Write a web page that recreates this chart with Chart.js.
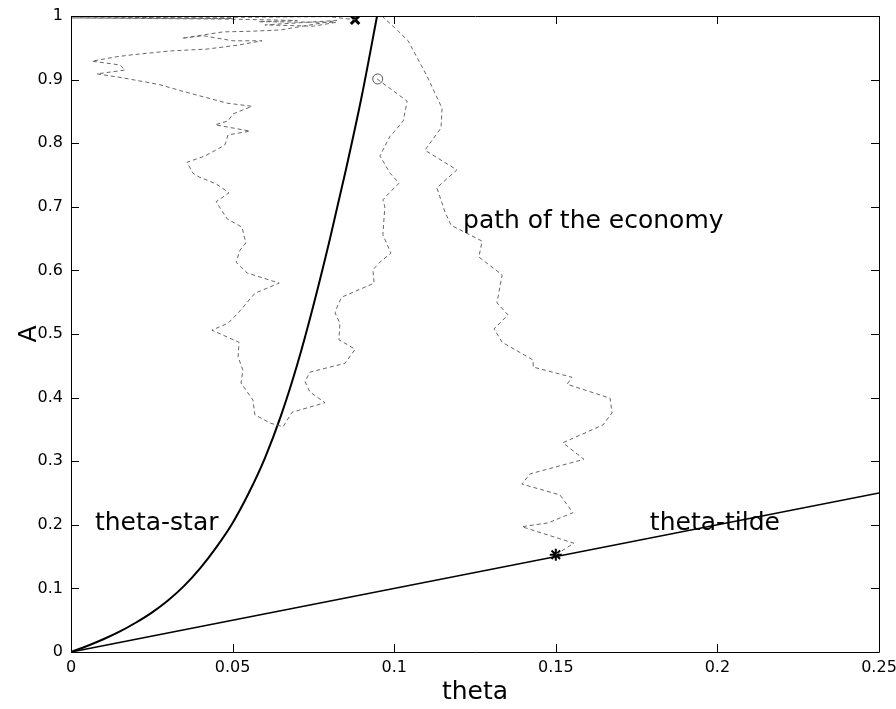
<!DOCTYPE html>
<html>
<head>
<meta charset="utf-8">
<title>theta vs A</title>
<script src="https://cdn.jsdelivr.net/npm/chart.js@4.4.1/dist/chart.umd.min.js"></script>
<style>
  html, body { margin: 0; padding: 0; background: #ffffff; }
  #wrap { width: 896px; height: 709px; }
</style>
</head>
<body>
<div id="wrap"><canvas id="chart" width="896" height="709"></canvas></div>
<script>
// Axis tick labels
const xTickLabels = ['0', '0.05', '0.1', '0.15', '0.2', '0.25'];
const yTickLabels = ['0', '0.1', '0.2', '0.3', '0.4', '0.5', '0.6', '0.7', '0.8', '0.9', '1'];

// theta-star boundary
const thetaStarTheta = [0, 0.0050, 0.0100, 0.0150, 0.0200, 0.0250, 0.0300, 0.0350, 0.0400, 0.0450, 0.0500, 0.0550, 0.0600, 0.0650, 0.0700, 0.0750, 0.0800, 0.0850, 0.0900, 0.0947];
const thetaStarA     = [0, 0.0095, 0.020, 0.032, 0.046, 0.062, 0.081, 0.104, 0.132, 0.165, 0.203, 0.250, 0.305, 0.372, 0.452, 0.545, 0.647, 0.757, 0.875, 1.000];

// theta-tilde line
const thetaTildeTheta = [0, 0.25];
const thetaTildeA     = [0, 0.25];

// path of the economy, starting on theta-tilde
const pathRightTheta = [0.1500, 0.1556, 0.1395, 0.1476, 0.1553, 0.1513, 0.1395, 0.1420, 0.1587, 0.1522, 0.1646, 0.1674, 0.1668, 0.1535, 0.1550, 0.1430, 0.1430, 0.1334, 0.1309, 0.1352, 0.1318, 0.1334, 0.1262, 0.1272, 0.1176, 0.1157, 0.1132, 0.1194, 0.1095, 0.1145, 0.1148, 0.1101, 0.1043, 0.1009, 0.0962];
const pathRightA     = [0.153, 0.171, 0.197, 0.203, 0.219, 0.247, 0.264, 0.280, 0.303, 0.329, 0.357, 0.376, 0.399, 0.421, 0.432, 0.448, 0.459, 0.487, 0.508, 0.530, 0.549, 0.593, 0.621, 0.646, 0.671, 0.692, 0.730, 0.758, 0.789, 0.824, 0.855, 0.906, 0.961, 0.978, 1.000];

// path of the economy, starting at the circle and ending at the cross
const pathLeftTheta = [0.0947, 0.1006, 0.1040, 0.1028, 0.1002, 0.0987, 0.0956, 0.0987, 0.1015, 0.0987, 0.0965, 0.0971, 0.0965, 0.0990, 0.0956, 0.0934, 0.0938, 0.0838, 0.0826, 0.0817, 0.0832, 0.0829, 0.0879, 0.0848, 0.0739, 0.0724, 0.0739, 0.0786, 0.0684, 0.0656,
  0.0616, 0.0569, 0.0563, 0.0526, 0.0532, 0.0517, 0.0520, 0.0436, 0.0486, 0.0517, 0.0569, 0.0644, 0.0545, 0.0511, 0.0523, 0.0541, 0.0529, 0.0483, 0.0449, 0.0489, 0.0449, 0.0396, 0.0377, 0.0359,
  0.0415, 0.0476, 0.0486, 0.0554, 0.0446, 0.0486, 0.0501, 0.0560, 0.0483, 0.0409, 0.0343, 0.0275, 0.0158, 0.0080, 0.0167, 0.0152, 0.0065, 0.0142, 0.0189, 0.0306, 0.0421, 0.0514, 0.0591, 0.0501,
  0.0409, 0.0343, 0.0470, 0.0554, 0.0647, 0.0823, 0.0600, 0.0750, 0.0820, 0.0580, 0.0700, 0.0500, 0.0000, 0.0500, 0.0000, 0.0520, 0.0800, 0.0880];
const pathLeftA = [0.901, 0.879, 0.866, 0.835, 0.819, 0.811, 0.780, 0.753, 0.737, 0.723, 0.711, 0.700, 0.656, 0.627, 0.613, 0.601, 0.580, 0.558, 0.546, 0.533, 0.517, 0.491, 0.476, 0.454, 0.440, 0.425, 0.409, 0.392, 0.377, 0.354,
  0.360, 0.373, 0.396, 0.423, 0.443, 0.464, 0.487, 0.506, 0.517, 0.533, 0.564, 0.580, 0.596, 0.613, 0.632, 0.643, 0.668, 0.681, 0.708, 0.722, 0.736, 0.747, 0.753, 0.770,
  0.780, 0.797, 0.813, 0.819, 0.829, 0.835, 0.846, 0.858, 0.863, 0.873, 0.882, 0.892, 0.903, 0.909, 0.915, 0.923, 0.929, 0.936, 0.939, 0.945, 0.948, 0.954, 0.961, 0.961,
  0.969, 0.965, 0.975, 0.976, 0.978, 0.993, 0.986, 0.984, 0.990, 0.991, 0.993, 0.995, 0.997, 0.996, 0.999, 0.998, 0.999, 0.994];

// Markers: start (star), circle, end (cross)
const starTheta = [0.150];
const starA = [0.153];
const circleTheta = [0.0949];
const circleA = [0.901];
const crossTheta = [0.0879];
const crossA = [0.994];

// Text labels placed in data coordinates
const noteText  = ['path of the economy', 'theta-star', 'theta-tilde'];
const noteTheta = [0.1213, 0.0074, 0.1791];
const noteA     = [0.667, 0.192, 0.192];

const zip = (xs, ys) => xs.map((x, i) => ({ x: x, y: ys[i] }));

const FONT = "'DejaVu Sans', 'Liberation Sans', sans-serif";

// Box around the plot with inward tick marks on all four sides
const axesBox = {
  id: 'axesBox',
  afterDraw(chart) {
    const { ctx, chartArea: a, scales } = chart;
    const len = 8;
    ctx.save();
    ctx.strokeStyle = '#000';
    ctx.lineWidth = 1;
    ctx.beginPath();
    ctx.rect(a.left + 0.5, a.top + 0.5, a.right - a.left, a.bottom - a.top);
    scales.x.ticks.forEach((t, i) => {
      const px = Math.round(scales.x.getPixelForTick(i)) + 0.5;
      ctx.moveTo(px, a.bottom); ctx.lineTo(px, a.bottom - len);
      ctx.moveTo(px, a.top); ctx.lineTo(px, a.top + len);
    });
    scales.y.ticks.forEach((t, i) => {
      const py = Math.round(scales.y.getPixelForTick(i)) + 0.5;
      ctx.moveTo(a.left, py); ctx.lineTo(a.left + len, py);
      ctx.moveTo(a.right, py); ctx.lineTo(a.right - len, py);
    });
    ctx.stroke();
    ctx.restore();
  }
};

// Text notes next to the curves
const notes = {
  id: 'notes',
  afterDatasetsDraw(chart) {
    const { ctx, scales } = chart;
    ctx.save();
    ctx.fillStyle = '#000';
    ctx.font = '25px ' + FONT;
    ctx.textAlign = 'left';
    ctx.textBaseline = 'alphabetic';
    noteText.forEach((txt, i) => {
      ctx.fillText(txt, scales.x.getPixelForValue(noteTheta[i]), scales.y.getPixelForValue(noteA[i]));
    });
    ctx.restore();
  }
};

const pathStyle = {
  type: 'line',
  borderColor: '#666',
  borderWidth: 1,
  borderDash: [4, 3],
  pointRadius: 0,
  fill: false,
  tension: 0
};

new Chart(document.getElementById('chart'), {
  type: 'line',
  data: {
    datasets: [
      Object.assign({ label: 'path (right)', data: zip(pathRightTheta, pathRightA) }, pathStyle),
      Object.assign({ label: 'path (left)', data: zip(pathLeftTheta, pathLeftA) }, pathStyle),
      {
        label: 'theta-star', data: zip(thetaStarTheta, thetaStarA),
        borderColor: '#000', borderWidth: 2, pointRadius: 0, fill: false,
        cubicInterpolationMode: 'monotone'
      },
      {
        label: 'theta-tilde', data: zip(thetaTildeTheta, thetaTildeA),
        borderColor: '#000', borderWidth: 1.6, pointRadius: 0, fill: false
      },
      {
        label: 'start', data: zip(starTheta, starA), showLine: false,
        pointStyle: 'star', pointRadius: 6, borderColor: '#000', borderWidth: 2, backgroundColor: '#000'
      },
      {
        label: 'circle', data: zip(circleTheta, circleA), showLine: false,
        pointStyle: 'circle', pointRadius: 5, borderColor: '#555', borderWidth: 1, backgroundColor: 'rgba(0,0,0,0)'
      },
      {
        label: 'end', data: zip(crossTheta, crossA), showLine: false,
        pointStyle: 'crossRot', pointRadius: 6, borderColor: '#000', borderWidth: 3
      }
    ]
  },
  options: {
    responsive: false,
    animation: false,
    events: [],
    layout: { padding: { top: 16, right: 17, left: 0, bottom: 0 } },
    plugins: { legend: { display: false }, tooltip: { enabled: false } },
    scales: {
      x: {
        type: 'linear', min: 0, max: 0.25,
        afterFit(scale) { scale.height = 57; scale.paddingLeft = 0; scale.paddingRight = 0; },
        grid: { display: false, drawTicks: false },
        border: { display: false },
        ticks: {
          stepSize: 0.05, padding: 6, color: '#000', maxRotation: 0, autoSkip: false,
          font: { family: FONT, size: 16 },
          callback: (v, i) => xTickLabels[i]
        },
        title: {
          display: true, text: 'theta', color: '#000',
          font: { family: FONT, size: 25 },
          padding: { top: 0, bottom: 2 }
        }
      },
      y: {
        type: 'linear', min: 0, max: 1,
        afterFit(scale) { scale.width = 71; scale.paddingTop = 0; scale.paddingBottom = 0; },
        grid: { display: false, drawTicks: false },
        border: { display: false },
        ticks: {
          stepSize: 0.1, padding: 8, color: '#000', autoSkip: false,
          font: { family: FONT, size: 16 },
          callback: (v, i) => yTickLabels[i]
        },
        title: {
          display: true, text: 'A', color: '#000',
          font: { family: FONT, size: 25 },
          padding: { top: 14, bottom: 0 }
        }
      }
    }
  },
  plugins: [axesBox, notes]
});
</script>
</body>
</html>
